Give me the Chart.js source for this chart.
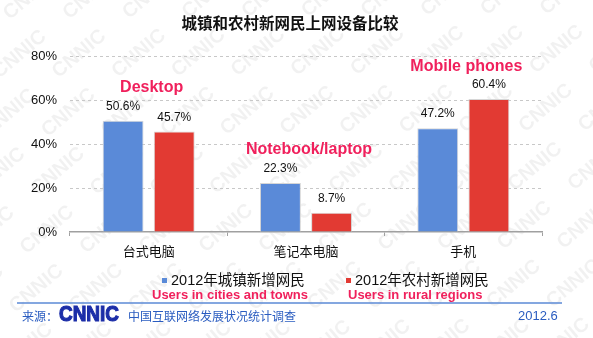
<!DOCTYPE html>
<html><head><meta charset="utf-8">
<script src="https://cdn.jsdelivr.net/npm/chart.js@4/dist/chart.umd.min.js"></script>
<style>html,body{margin:0;padding:0;background:#fff;}canvas{display:block;}</style>
</head><body>
<canvas id="c" width="593" height="338"></canvas>
<script>
const categories = ['台式电脑', '笔记本电脑', '手机'];
const categoryNotes = ['Desktop', 'Notebook/laptop', 'Mobile phones'];
const urbanValues = [50.6, 22.3, 47.2];
const ruralValues = [45.7, 8.7, 60.4];
const seriesNames = ['2012年城镇新增网民', '2012年农村新增网民'];
const seriesNotes = ['Users in cities and towns', 'Users in rural regions'];
const yTicks = [0, 20, 40, 60, 80];
const chartTitle = '城镇和农村新网民上网设备比较';
const sourceLabel = '来源：';
const sourceText = '中国互联网络发展状况统计调查';
const dateText = '2012.6';

const LATIN = '"Liberation Sans", Arial, "Noto Sans CJK SC", sans-serif';
const CJK = '"Noto Sans CJK SC", "Liberation Sans", sans-serif';
const PINK = '#f0205c';
const BLUE = '#5a8ad8';
const RED = '#e23a33';

const decor = {
  id: 'decor',
  beforeDraw(chart) {
    const ctx = chart.ctx;
    ctx.save();
    ctx.fillStyle = '#fff';
    ctx.fillRect(0, 0, chart.width, chart.height);
    ctx.fillStyle = 'rgba(0,0,0,0.055)';
    ctx.font = 'bold 20px ' + LATIN;
    ctx.textAlign = 'center';
    ctx.textBaseline = 'middle';
    ctx.translate(chart.width / 2, chart.height / 2);
    ctx.rotate(-0.7);
    for (let v = -9; v <= 9; v++) {
      for (let u = -6; u <= 6; u++) {
        ctx.fillText('CNNIC', u * 92 + (v % 2) * 46, v * 38);
      }
    }
    ctx.restore();
  },
  afterDraw(chart) {
    const ctx = chart.ctx;
    const xs = chart.scales.x;
    ctx.save();
    // title
    ctx.fillStyle = '#111';
    ctx.font = 'bold 15.5px ' + CJK;
    ctx.textAlign = 'center';
    ctx.textBaseline = 'middle';
    ctx.fillText(chartTitle, 290, 23);
    // value labels and category notes
    const m0 = chart.getDatasetMeta(0), m1 = chart.getDatasetMeta(1);
    ctx.font = '12px ' + LATIN;
    ctx.fillStyle = '#111';
    [m0, m1].forEach((m, di) => {
      m.data.forEach((bar, i) => {
        const v = chart.data.datasets[di].data[i];
        ctx.fillText(v.toFixed(1) + '%', bar.x, bar.y - 14);
      });
    });
    ctx.font = 'bold 16px ' + LATIN;
    ctx.fillStyle = PINK;
    categories.forEach((c, i) => {
      const top = Math.min(m0.data[i].y, m1.data[i].y);
      ctx.fillText(categoryNotes[i], xs.getPixelForValue(i) + 3, top - 33);
    });
    // legend
    const legendX = [171, 355];
    const noteX = [152, 348];
    const colors = [BLUE, RED];
    ctx.textAlign = 'left';
    seriesNames.forEach((n, i) => {
      ctx.fillStyle = colors[i];
      ctx.fillRect(legendX[i] - 9, 278, 5, 5);
      ctx.fillStyle = '#111';
      ctx.font = '14.5px ' + LATIN;
      ctx.fillText(n, legendX[i], 281);
      ctx.fillStyle = PINK;
      ctx.font = 'bold 13px ' + LATIN;
      ctx.fillText(seriesNotes[i], noteX[i], 295.5);
    });
    // footer
    ctx.strokeStyle = '#5b8ad6';
    ctx.lineWidth = 1.5;
    ctx.beginPath();
    ctx.moveTo(17, 303);
    ctx.lineTo(562, 303);
    ctx.stroke();
    ctx.fillStyle = '#2a5cc0';
    ctx.font = '12px ' + CJK;
    ctx.fillText(sourceLabel, 22, 316);
    ctx.fillText(sourceText, 128, 316);
    ctx.font = '13px ' + LATIN;
    ctx.fillText(dateText, 518, 316);
    // logo
    ctx.save();
    ctx.fillStyle = '#1c2ea8';
    ctx.strokeStyle = '#1c2ea8';
    ctx.lineWidth = 1.2;
    ctx.font = 'bold 22px ' + LATIN;
    ctx.translate(59, 315);
    ctx.scale(0.86, 1);
    ctx.fillText('CNNIC', 0, 0);
    ctx.strokeText('CNNIC', 0, 0);
    ctx.restore();
    ctx.restore();
  }
};

new Chart(document.getElementById('c'), {
  type: 'bar',
  data: {
    labels: categories,
    datasets: [
      { label: seriesNames[0], data: urbanValues, backgroundColor: BLUE, borderColor: '#d6d6d6', borderWidth: 1 },
      { label: seriesNames[1], data: ruralValues, backgroundColor: RED, borderColor: '#d6d6d6', borderWidth: 1 }
    ]
  },
  options: {
    responsive: false,
    animation: false,
    devicePixelRatio: 1,
    categoryPercentage: 0.65,
    barPercentage: 0.8,
    layout: { padding: { left: 0, right: 51, top: 56, bottom: 76 } },
    plugins: { legend: { display: false }, title: { display: false }, tooltip: { enabled: false } },
    scales: {
      x: {
        afterFit(s) { s.height = 30; },
        grid: { display: true, drawOnChartArea: false, drawTicks: true, tickLength: 4, color: '#a0a0a0', offset: true },
        border: { display: true, color: '#a0a0a0', width: 1.5 },
        ticks: { color: '#111', font: { family: CJK, size: 13 }, padding: 7 }
      },
      y: {
        min: 0, max: 80,
        afterFit(s) { s.width = 70; },
        afterBuildTicks(s) { s.ticks = yTicks.map(v => ({ value: v })); },
        grid: {
          drawTicks: false,
          borderDash: [3, 3],
          color: ctx => ctx.tick && ctx.tick.value === 0 ? 'rgba(0,0,0,0)' : '#c8c8c8'
        },
        border: { display: false, dash: [3, 3] },
        ticks: { color: '#111', font: { family: LATIN, size: 13 }, padding: 13, callback: v => v + '%' }
      }
    }
  },
  plugins: [decor]
});
</script>
</body></html>
